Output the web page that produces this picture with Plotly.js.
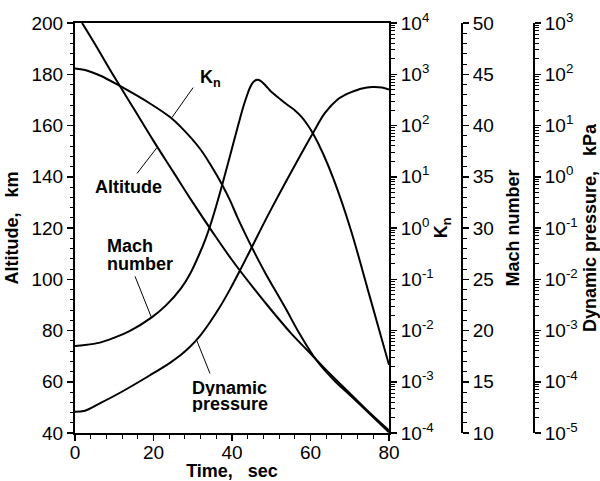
<!DOCTYPE html>
<html><head><meta charset="utf-8">
<script src="https://cdn.plot.ly/plotly-3.0.1.min.js"></script>
<style>body{margin:0;background:#fff}</style>
</head><body><div id="chart" style="width:600px;height:481px"></div>
<script>
// Altitude, km (left axis)
const altTime = [1.8, 5, 10, 15, 20, 25, 30, 35, 40, 45, 50, 55, 60, 65, 70, 75, 80];
const altitude = [200, 192, 179, 166.5, 154, 142, 130, 118.5, 107.5, 97.5, 88, 79, 71, 63, 55.5, 48, 41];
// Knudsen number (log axis)
const knTime = [0, 2.55, 6.37, 11.2, 19.1, 24.2, 27.0, 31.85, 34.65, 37.45, 39.5, 41.5, 43.8, 46.1, 48.4, 53.5, 57.3, 61.7, 66.25, 70.1, 75.2, 80];
const knudsen = [1297, 1211, 946, 604, 269, 146, 92.9, 35.2, 16.6, 7.09, 3.46, 1.54, 0.656, 0.292, 0.136, 0.0283, 0.00842, 0.00251, 0.00102, 0.000544, 0.000232, 0.000103];
// Mach number (linear axis)
const machTime = [0, 2.55, 6.37, 9.68, 14.0, 19.54, 23.18, 27.0, 29.3, 31.85, 33.12, 34.39, 35.92, 37.38, 38.73, 40.26, 41.53, 42.88, 43.82, 44.59, 45.35, 46.12, 46.88, 47.64, 48.66, 49.68, 52.23, 54.0, 56.05, 57.83, 59.36, 60.64, 63.19, 66.0, 70.24, 75.16, 80];
const mach = [18.5, 18.58, 18.82, 19.25, 19.96, 21.28, 22.45, 24.11, 25.51, 27.61, 28.8, 30.17, 32.07, 34.04, 35.95, 38.14, 39.97, 41.83, 42.93, 43.71, 44.2, 44.44, 44.44, 44.25, 43.86, 43.42, 42.59, 42.05, 41.47, 40.79, 40.0, 39.22, 37.27, 34.64, 29.86, 23.23, 16.65];
// Dynamic pressure, kPa (log axis)
const dpTime = [0, 2.55, 6.37, 11.47, 19.11, 24.2, 27.0, 29.3, 31.85, 34.39, 36.94, 39.49, 42.04, 44.59, 47.13, 49.68, 53.76, 57.33, 60.64, 63.69, 66.75, 68.8, 70.24, 73.12, 75.67, 78.22, 80];
const dynPressure = [2.59e-5, 2.72e-5, 3.80e-5, 6.10e-5, 1.34e-4, 2.34e-4, 3.36e-4, 4.81e-4, 7.87e-4, 1.45e-3, 2.90e-3, 6.35e-3, 0.0149, 0.0361, 0.0879, 0.211, 0.811, 2.55, 7.16, 17.6, 31.5, 39.4, 44.2, 52.8, 56.5, 55.2, 50.5];

const timeTicks = [0, 20, 40, 60, 80];
const altTicks = [40, 60, 80, 100, 120, 140, 160, 180, 200];
const knExponents = [-4, -3, -2, -1, 0, 1, 2, 3, 4];
const machTicks = [10, 15, 20, 25, 30, 35, 40, 45, 50];
const dpExponents = [-5, -4, -3, -2, -1, 0, 1, 2, 3];

function decadeTicks(exps) {
  return {vals: exps.map(e => Math.pow(10, e)), text: exps.map(e => '10<sup>' + e + '</sup>')};
}
function logMinor(exps) {
  const out = [];
  for (let i = 0; i < exps.length - 1; i++) for (let m = 2; m <= 9; m++) out.push(m * Math.pow(10, exps[i]));
  return out;
}
const kn = decadeTicks(knExponents), dp = decadeTicks(dpExponents);

const FONT = 'Liberation Sans, Arial, Helvetica, sans-serif';
const lineStyle = {color: 'black', width: 2, shape: 'spline', smoothing: 1};

const traces = [
  {x: altTime, y: altitude, mode: 'lines', line: lineStyle, yaxis: 'y', name: 'Altitude'},
  {x: knTime, y: knudsen, mode: 'lines', line: lineStyle, yaxis: 'y2', name: 'Kn'},
  {x: machTime, y: mach, mode: 'lines', line: lineStyle, yaxis: 'y3', name: 'Mach number'},
  {x: dpTime, y: dynPressure, mode: 'lines', line: lineStyle, yaxis: 'y4', name: 'Dynamic pressure'}
];

const minorTicks = {ticks: 'outside', ticklen: 3.5, tickwidth: 1, tickcolor: 'black'};
const axisCommon = {
  showline: true, linewidth: 2, linecolor: 'black', showgrid: false, zeroline: false,
  ticks: 'outside', ticklen: 6, tickwidth: 1.5, tickcolor: 'black',
  tickfont: {family: FONT, size: 19, color: 'black'}
};
const titleFont = {family: FONT, size: 18, color: 'black', weight: 'bold'};
const NB = '\u00a0\u00a0\u00a0';

const layout = {
  width: 600, height: 481,
  margin: {l: 75, r: 0, t: 22.5, b: 48.3},
  paper_bgcolor: 'white', plot_bgcolor: 'white',
  showlegend: false,
  font: {family: FONT, size: 19, color: 'black'},
  xaxis: Object.assign({}, axisCommon, {
    domain: [0, 314 / 525], range: [0, 80], tickmode: 'array', tickvals: timeTicks, mirror: true,
    ticklabelstandoff: -5,
    minor: Object.assign({dtick: 4}, minorTicks),
    title: {text: 'Time,' + NB + 'sec', font: titleFont, standoff: 8}
  }),
  yaxis: Object.assign({}, axisCommon, {
    range: [40, 200], tickmode: 'array', tickvals: altTicks,
    minor: Object.assign({dtick: 4}, minorTicks),
    title: {text: 'Altitude,' + NB + 'km', font: titleFont, standoff: 8}
  }),
  yaxis2: Object.assign({}, axisCommon, {
    overlaying: 'y', side: 'right', anchor: 'x', type: 'log', range: [-4, 4],
    tickmode: 'array', tickvals: kn.vals, ticktext: kn.text,
    minor: Object.assign({tickmode: 'array', tickvals: logMinor(knExponents)}, minorTicks),
    title: {text: 'K<sub>n</sub>', font: titleFont, standoff: 2}
  }),
  yaxis3: Object.assign({}, axisCommon, {
    overlaying: 'y', side: 'right', anchor: 'free', position: 387 / 525, range: [10, 50],
    tickmode: 'array', tickvals: machTicks,
    minor: Object.assign({dtick: 1}, minorTicks),
    title: {text: 'Mach number', font: titleFont, standoff: 12}
  }),
  yaxis4: Object.assign({}, axisCommon, {
    overlaying: 'y', side: 'right', anchor: 'free', position: 459 / 525, type: 'log', range: [-5, 3],
    tickmode: 'array', tickvals: dp.vals, ticktext: dp.text,
    minor: Object.assign({tickmode: 'array', tickvals: logMinor(dpExponents)}, minorTicks),
    title: {text: 'Dynamic pressure,' + NB + 'kPa', font: titleFont, standoff: 7}
  }),
  annotations: [
    {text: 'Altitude', x: 4.46, y: 136.0},
    {text: 'K<sub>n</sub>', x: 31.3, y: 178.3},
    {text: 'Mach', x: 7.64, y: 113.0, height: 17},
    {text: 'number', x: 7.64, y: 106.0, height: 17},
    {text: 'Dynamic', x: 29.3, y: 57.8, height: 17},
    {text: 'pressure', x: 29.3, y: 51.5, height: 17}
  ].map(a => Object.assign({xref: 'x', yref: 'y', xanchor: 'left', yanchor: 'middle', showarrow: false,
    font: {family: FONT, size: 18, color: 'black', weight: 'bold'}}, a)),
  shapes: [
    [15.8, 141.3, 20.9, 151.4],
    [30.1, 174.8, 24.7, 163.1],
    [15.3, 101.1, 19.5, 85.0],
    [34.4, 63.2, 31.0, 76.2]
  ].map(s => ({type: 'line', xref: 'x', yref: 'y', x0: s[0], y0: s[1], x1: s[2], y1: s[3], line: {color: 'black', width: 1}}))
};

Plotly.newPlot('chart', traces, layout, {displayModeBar: false, staticPlot: true});
</script>
</body></html>
